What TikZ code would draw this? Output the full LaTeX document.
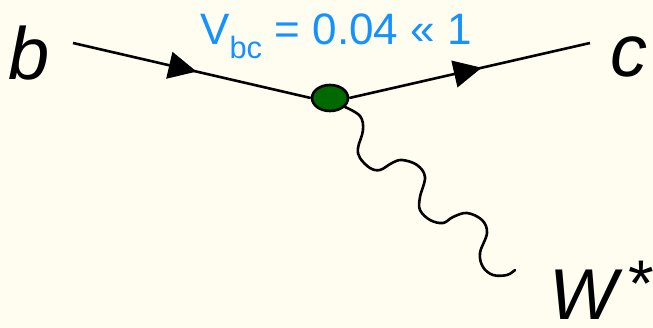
\documentclass[tikz,border=0pt]{standalone}
\usepackage{fontspec}
\setmainfont{Liberation Sans}
\usetikzlibrary{decorations.markings,arrows.meta,shapes.geometric}
\definecolor{cream}{RGB}{255,252,240}
\definecolor{vblue}{RGB}{20,146,255}
\definecolor{vgreen}{RGB}{0,105,0}
\tikzset{
  fermion/.style={line width=2.6pt, postaction={decorate},
    decoration={markings, mark=at position #1 with {\arrow{Triangle[length=28pt,width=27pt]}}}},
  particle/.style={font=\fontsize{74}{80}\selectfont\itshape, inner sep=0pt},
  vertexdot/.style={ellipse, draw, line width=2.6pt, fill=vgreen, minimum width=36pt, minimum height=26pt, inner sep=0pt},
  wave/.style={line width=2.6pt, line cap=round, line join=round}
}
\begin{document}
\begin{tikzpicture}[x=1pt,y=-1pt]
\fill[cream] (0,0) rectangle (653,328);
\useasboundingbox (0,0) rectangle (653,328);
\coordinate (bstart) at (73,43);
\coordinate (cend) at (590,43);
\node[vertexdot] (v) at (330,98) {};
\draw[fermion=0.52] (bstart) -- (v.west);
\draw[fermion=0.55] (v.east) -- (cend);
\draw[wave] plot[smooth, tension=0.6] coordinates {(345,107) (360,116) (363,130) (358,148) (360,158) (370,168) (380,170) (392,163) (402,160) (417,165) (425,177) (420,197) (420,210) (430,220) (443,223) (453,217) (467,213) (482,220) (487,233) (480,253) (483,267) (493,275) (507,275) (515,270)};
\node[particle, anchor=base west] (b) at (8,80) {b};
\node[particle, anchor=base west] (c) at (610,77) {c};
\node[particle, font=\fontsize{72}{76}\selectfont\itshape, anchor=base west] (w) at (549,320) {W};
\node[font=\fontsize{66}{70}\selectfont, inner sep=0pt] (star) at (641,284) {*};
\node[font=\fontsize{44}{46}\selectfont, text=vblue, inner sep=0pt, anchor=base west] (vbc) at (200,45) {V\textsubscript{bc} = 0.04 \guillemotleft\ 1};
\end{tikzpicture}
\end{document}
